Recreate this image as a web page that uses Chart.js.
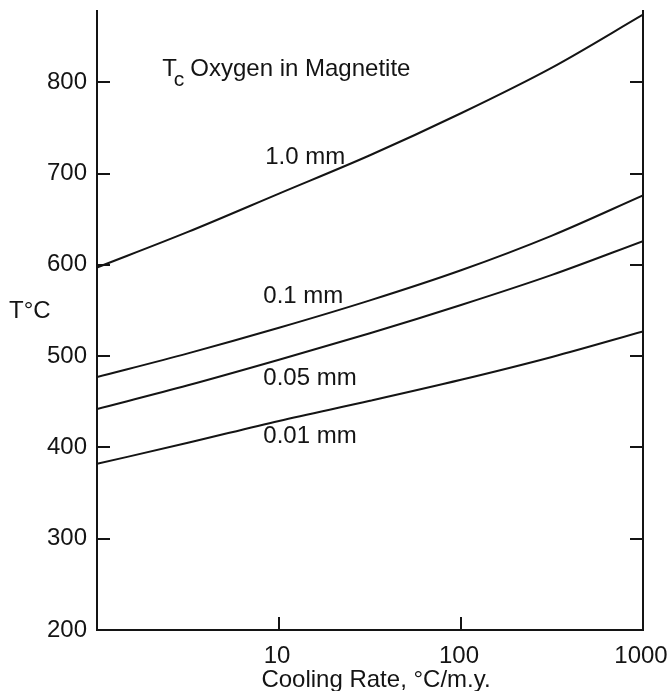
<!DOCTYPE html>
<html>
<head>
<meta charset="utf-8">
<script src="https://cdn.jsdelivr.net/npm/chart.js@4/dist/chart.umd.min.js"></script>
<style>
  html, body { margin: 0; padding: 0; background: #fff; }
</style>
</head>
<body>
<canvas id="chart" width="668" height="691"></canvas>
<script>
'use strict';

// cooling rate, °C/m.y. (log axis)
var rates = [1, 3.16, 10, 31.6, 100, 316, 1000];
// closure temperature (°C) for each grain size
var t10mm = [597, 636, 678, 720, 766, 816, 874];
var t01mm = [477, 503, 531, 561, 594, 632, 676];
var t005mm = [442, 468, 496, 525, 556, 589, 626];
var t001mm = [382, 405, 429, 451, 474, 499, 527];
var sizes = ['1.0 mm', '0.1 mm', '0.05 mm', '0.01 mm'];

var xTicks = [10, 100, 1000];
var yTicks = [200, 300, 400, 500, 600, 700, 800];

var INK = '#141414';
var FONT = '"Liberation Sans", Arial, Helvetica, sans-serif';

// where the curve labels sit, in data units
var labelSpots = [
  {x: 8.4, y: 718},
  {x: 8.2, y: 565},
  {x: 8.2, y: 476},
  {x: 8.2, y: 412}
];

function series(label, values){
  return {
    label: label,
    data: rates.map(function(r, i){ return {x: r, y: values[i]}; }),
    borderColor: INK,
    borderWidth: 2,
    pointRadius: 0,
    fill: false,
    cubicInterpolationMode: 'monotone'
  };
}

// inward tick marks, curve labels and axis titles
var decorations = {
  id: 'decorations',
  afterDraw: function(chart){
    var ctx = chart.ctx;
    var xs = chart.scales.x, ys = chart.scales.y, a = chart.chartArea;
    ctx.save();
    ctx.strokeStyle = INK;
    ctx.lineWidth = 2;
    ctx.beginPath();
    yTicks.forEach(function(v){
      var py = Math.round(ys.getPixelForValue(v));
      ctx.moveTo(a.left, py); ctx.lineTo(a.left + 13, py);
      ctx.moveTo(a.right, py); ctx.lineTo(a.right - 13, py);
    });
    xTicks.forEach(function(v){
      var px = Math.round(xs.getPixelForValue(v));
      ctx.moveTo(px, a.bottom); ctx.lineTo(px, a.bottom - 13);
    });
    ctx.stroke();

    ctx.fillStyle = INK;
    ctx.textBaseline = 'middle';
    ctx.textAlign = 'left';
    ctx.font = '24px ' + FONT;
    sizes.forEach(function(s, i){
      ctx.fillText(s, xs.getPixelForValue(labelSpots[i].x), ys.getPixelForValue(labelSpots[i].y));
    });

    // "Tc Oxygen in Magnetite"
    var tx = xs.getPixelForValue(2.28), ty = ys.getPixelForValue(814);
    ctx.fillText('T', tx, ty);
    var tw = ctx.measureText('T').width;
    ctx.font = '21px ' + FONT;
    ctx.fillText('c', tx + tw - 3, ty + 11);
    var cw = ctx.measureText('c').width;
    ctx.font = '24px ' + FONT;
    ctx.fillText('Oxygen in Magnetite', tx + tw + cw + 3, ty);

    ctx.textAlign = 'center';
    ctx.fillText('Cooling Rate, \u00B0C/m.y.', (a.left + a.right) / 2 + 6, 680);
    ctx.textAlign = 'left';
    ctx.fillText('T\u00B0C', 9, 311);
    ctx.restore();
  }
};

var ctx = document.getElementById('chart').getContext('2d');
var chart = new Chart(ctx, {
  type: 'line',
  data: {
    datasets: [
      series(sizes[0], t10mm),
      series(sizes[1], t01mm),
      series(sizes[2], t005mm),
      series(sizes[3], t001mm)
    ]
  },
  options: {
    responsive: false,
    animation: false,
    devicePixelRatio: 1,
    layout: { padding: { top: 11, left: 0, right: 0, bottom: 0 } },
    plugins: {
      legend: { display: false },
      tooltip: { enabled: false }
    },
    scales: {
      x: {
        type: 'logarithmic',
        min: 1,
        max: 1000,
        afterBuildTicks: function(scale){
          scale.ticks = xTicks.map(function(v){ return {value: v}; });
        },
        afterFit: function(scale){
          scale.height = 61;
          scale.paddingLeft = 0;
          scale.paddingRight = 0;
        },
        ticks: {
          color: INK,
          font: { family: FONT, size: 24 },
          padding: 12,
          labelOffset: -2,
          maxRotation: 0,
          callback: function(v){ return String(v); }
        },
        grid: { drawOnChartArea: false, drawTicks: false },
        border: { color: INK, width: 2 }
      },
      y: {
        position: 'left',
        min: 200,
        max: 878,
        afterBuildTicks: function(scale){
          scale.ticks = yTicks.map(function(v){ return {value: v}; });
        },
        afterFit: function(scale){
          scale.width = 97;
          scale.paddingTop = 0;
          scale.paddingBottom = 0;
        },
        ticks: {
          color: INK,
          font: { family: FONT, size: 24 },
          padding: 10
        },
        grid: { drawOnChartArea: false, drawTicks: false },
        border: { color: INK, width: 2 }
      },
      y2: {
        position: 'right',
        min: 200,
        max: 878,
        afterFit: function(scale){
          scale.width = 25;
          scale.paddingTop = 0;
          scale.paddingBottom = 0;
        },
        ticks: { display: false },
        grid: { drawOnChartArea: false, drawTicks: false },
        border: { color: INK, width: 2 }
      }
    }
  },
  plugins: [decorations]
});
</script>
</body>
</html>
